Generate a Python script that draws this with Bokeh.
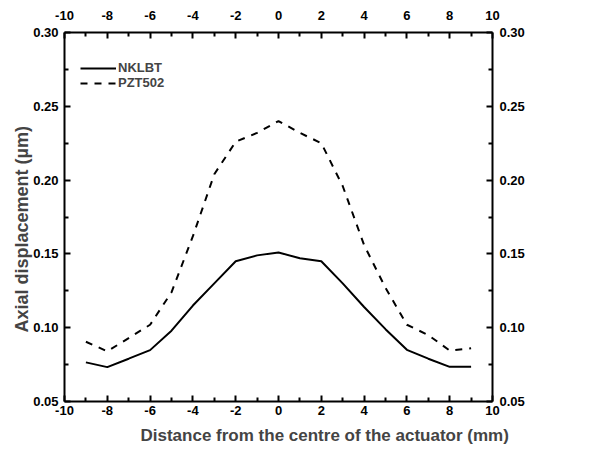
from bokeh.plotting import figure
from bokeh.models import Range1d, LinearAxis, FixedTicker, PrintfTickFormatter, Legend, LegendItem, Title
from bokeh.embed import file_html
from bokeh.resources import INLINE

distance = [-9, -8, -7, -6, -5, -4, -3, -2, -1, 0, 1, 2, 3, 4, 5, 6, 7, 8, 9]
nklbt = [0.0765, 0.0733, 0.079, 0.0848, 0.098, 0.115, 0.130, 0.145, 0.149, 0.151, 0.147, 0.145, 0.130, 0.114, 0.099, 0.085, 0.079, 0.0735, 0.0735]
pzt502 = [0.0905, 0.0840, 0.093, 0.102, 0.124, 0.162, 0.204, 0.226, 0.232, 0.240, 0.232, 0.225, 0.196, 0.156, 0.127, 0.102, 0.095, 0.0845, 0.086]

x_ticks = [-10, -8, -6, -4, -2, 0, 2, 4, 6, 8, 10]
x_minor = [-9, -7, -5, -3, -1, 1, 3, 5, 7, 9]
y_ticks = [0.05, 0.10, 0.15, 0.20, 0.25, 0.30]
y_minor = [0.075, 0.125, 0.175, 0.225, 0.275]

NARROW = "'Liberation Sans Narrow', 'Arial Narrow', 'Liberation Sans', sans-serif"
BOLD = "'Liberation Sans', Arial, sans-serif"

p = figure(frame_width=428, frame_height=369, output_backend="svg", toolbar_location=None,
           x_range=Range1d(-10, 10), y_range=Range1d(0.05, 0.30),
           x_axis_location=None, y_axis_location=None,
           min_border_left=64, min_border_right=100, min_border_top=32, min_border_bottom=53)
p.grid.visible = False
p.outline_line_color = None
p.background_fill_color = "white"
p.border_fill_color = "white"

r1 = p.line(distance, nklbt, line_color="black", line_width=2)
r2 = p.line(distance, pzt502, line_color="black", line_width=2, line_dash="7 7")

bottom = LinearAxis()
top = LinearAxis()
left = LinearAxis()
right = LinearAxis()
p.add_layout(bottom, "below")
p.add_layout(top, "above")
p.add_layout(left, "left")
p.add_layout(right, "right")

for ax in [bottom, top]:
    ax.ticker = FixedTicker(ticks=x_ticks, minor_ticks=x_minor)
    ax.formatter = PrintfTickFormatter(format="%d")
for ax in [left, right]:
    ax.ticker = FixedTicker(ticks=y_ticks, minor_ticks=y_minor)
    ax.formatter = PrintfTickFormatter(format="%.2f")

for ax in [bottom, top, left, right]:
    ax.axis_line_width = 2
    ax.axis_line_color = "black"
    ax.major_tick_in = 6
    ax.major_tick_out = 0
    ax.minor_tick_in = 4
    ax.minor_tick_out = 0
    ax.major_tick_line_width = 2
    ax.minor_tick_line_width = 2
    ax.major_label_text_font = NARROW
    ax.major_label_text_font_style = "bold"
    ax.major_label_text_font_size = "13px"
    ax.major_label_text_color = "black"

bottom.major_label_standoff = 4
top.major_label_standoff = 13
left.major_label_standoff = 6
right.major_label_standoff = 7

yt = Title(text="Axial displacement (\u00b5m)", align="left", offset=69,
           text_font=BOLD, text_font_style="bold", text_font_size="18px", standoff=-3)
p.add_layout(yt, "left")

xt = Title(text="Distance from the centre of the actuator (mm)", align="left", offset=76,
           text_font=BOLD, text_font_style="bold", text_font_size="17px", standoff=12)
p.add_layout(xt, "below")

legend = Legend(items=[LegendItem(label="NKLBT", renderers=[r1]),
                       LegendItem(label="PZT502", renderers=[r2])],
                location=(16, 311), border_line_color=None, background_fill_alpha=0,
                label_text_font=NARROW, label_text_font_style="bold", label_text_font_size="13px",
                glyph_width=36, glyph_height=14, label_standoff=2, spacing=0, padding=2,
                margin=0)
p.add_layout(legend)

open("out.html", "w").write(file_html(p, INLINE))
